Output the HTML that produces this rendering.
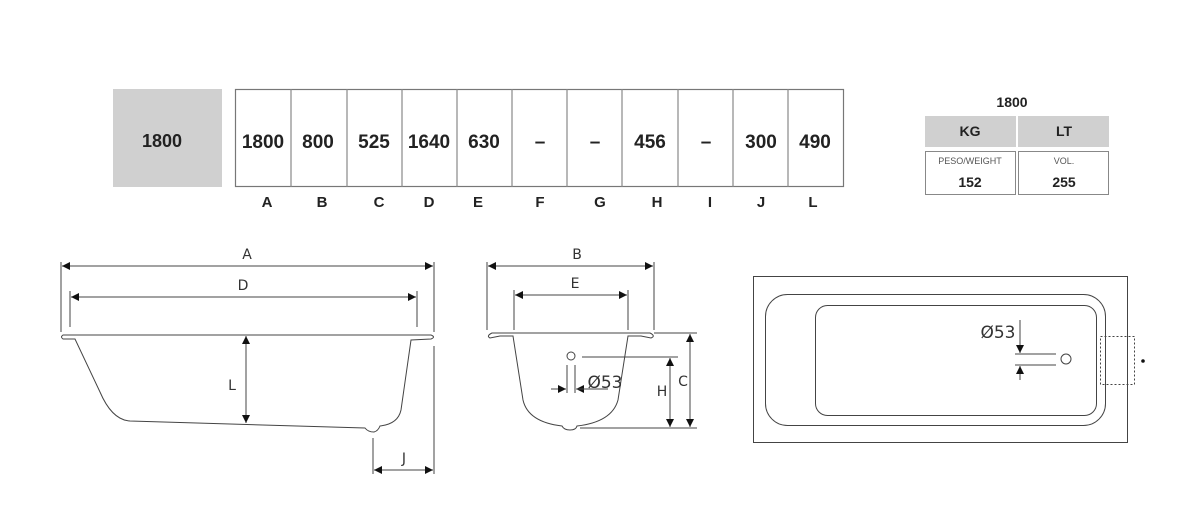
<!DOCTYPE html>
<html><head><meta charset="utf-8"><style>
html,body{margin:0;padding:0;background:#fff;width:1200px;height:515px;overflow:hidden}
svg{display:block}
.n{font-family:"Liberation Sans",sans-serif;font-weight:bold;fill:#222}
.t{font-family:"DejaVu Sans","Liberation Sans",sans-serif;fill:#333}
</style></head><body>
<svg width="1200" height="515" viewBox="0 0 1200 515" xmlns="http://www.w3.org/2000/svg">
<defs>
<marker id="ar" viewBox="0 0 10 10" refX="10" refY="5" markerWidth="12" markerHeight="8" orient="auto-start-reverse" markerUnits="userSpaceOnUse"><path d="M0,0 L10,5 L0,10 z" fill="#111"/></marker>
</defs>
<rect x="113" y="89" width="109" height="98" fill="#d0d0d0"/>
<text class="n" x="162" y="147" font-size="18" text-anchor="middle">1800</text>
<rect x="235.5" y="89.5" width="608" height="97" fill="none" stroke="#777" stroke-width="1.2"/>
<g stroke="#888" stroke-width="1.2">
<line x1="291" y1="89" x2="291" y2="187"/><line x1="347" y1="89" x2="347" y2="187"/><line x1="402" y1="89" x2="402" y2="187"/><line x1="457" y1="89" x2="457" y2="187"/><line x1="512" y1="89" x2="512" y2="187"/><line x1="567" y1="89" x2="567" y2="187"/><line x1="622" y1="89" x2="622" y2="187"/><line x1="678" y1="89" x2="678" y2="187"/><line x1="733" y1="89" x2="733" y2="187"/><line x1="788" y1="89" x2="788" y2="187"/>
</g>
<g class="n" font-size="19" text-anchor="middle">
<text x="263" y="148">1800</text><text x="318" y="148">800</text><text x="374" y="148">525</text><text x="429" y="148">1640</text><text x="484" y="148">630</text><text x="540" y="148">–</text><text x="595" y="148">–</text><text x="650" y="148">456</text><text x="706" y="148">–</text><text x="761" y="148">300</text><text x="815" y="148">490</text>
</g>
<g class="n" font-size="15" text-anchor="middle">
<text x="267" y="207">A</text><text x="322" y="207">B</text><text x="379" y="207">C</text><text x="429" y="207">D</text><text x="478" y="207">E</text><text x="540" y="207">F</text><text x="600" y="207">G</text><text x="657" y="207">H</text><text x="710" y="207">I</text><text x="761" y="207">J</text><text x="813" y="207">L</text>
</g>
<text class="n" x="1012" y="107" font-size="14" text-anchor="middle">1800</text>
<rect x="925" y="116" width="91" height="31" fill="#d0d0d0"/>
<rect x="1018" y="116" width="91" height="31" fill="#d0d0d0"/>
<text class="n" x="970" y="136" font-size="14" text-anchor="middle">KG</text>
<text class="n" x="1064" y="136" font-size="14" text-anchor="middle">LT</text>
<rect x="925.5" y="151.5" width="90" height="43" fill="none" stroke="#888"/>
<rect x="1018.5" y="151.5" width="90" height="43" fill="none" stroke="#888"/>
<text x="970" y="164" font-size="9" text-anchor="middle" font-family="Liberation Sans,sans-serif" fill="#555">PESO/WEIGHT</text>
<text x="1064" y="164" font-size="9" text-anchor="middle" font-family="Liberation Sans,sans-serif" fill="#555">VOL.</text>
<text class="n" x="970" y="187" font-size="14" text-anchor="middle">152</text>
<text class="n" x="1064" y="187" font-size="14" text-anchor="middle">255</text>

<g stroke="#444" stroke-width="1" fill="none">
<line x1="61" y1="262" x2="61" y2="332"/><line x1="434" y1="262" x2="434" y2="332"/>
<line x1="62" y1="266" x2="433" y2="266" marker-start="url(#ar)" marker-end="url(#ar)"/>
<line x1="70" y1="291" x2="70" y2="327"/><line x1="417" y1="291" x2="417" y2="327"/>
<line x1="71" y1="297" x2="416" y2="297" marker-start="url(#ar)" marker-end="url(#ar)"/>
<line x1="73" y1="335" x2="416" y2="335"/>
<path d="M74,335 L63,335 Q60,337 63,339 L75,339 L100,392 Q112,420 130,421 L365,428 Q368,432 374,432 Q378,431 380,426 Q398,424 401,410 L411,340 L431,339 Q436,337 431,335 L416,335"/>
<line x1="246" y1="336" x2="246" y2="423" marker-start="url(#ar)" marker-end="url(#ar)"/>
<line x1="373" y1="438" x2="373" y2="474"/><line x1="434" y1="346" x2="434" y2="474"/>
<line x1="374" y1="470" x2="433" y2="470" marker-start="url(#ar)" marker-end="url(#ar)"/>
<line x1="487" y1="262" x2="487" y2="330"/><line x1="654" y1="262" x2="654" y2="330"/>
<line x1="488" y1="266" x2="653" y2="266" marker-start="url(#ar)" marker-end="url(#ar)"/>
<line x1="514" y1="290" x2="514" y2="330"/><line x1="628" y1="290" x2="628" y2="330"/>
<line x1="515" y1="295" x2="627" y2="295" marker-start="url(#ar)" marker-end="url(#ar)"/>
<line x1="513" y1="333" x2="629" y2="333"/>
<path d="M513,333 L492,333 Q486,336 490,338 L500,336 L513,336 L523,400 Q528,422 562,426 Q564,430 570,430 Q576,430 577,426 Q612,422 618,400 L628,336 L641,336 L651,338 Q656,336 650,333 L629,333"/>
<line x1="654" y1="333" x2="697" y2="333"/>
<line x1="580" y1="428" x2="697" y2="428"/>
<circle cx="571" cy="356" r="4"/>
<line x1="582" y1="357" x2="678" y2="357"/>
<line x1="670" y1="358" x2="670" y2="427" marker-start="url(#ar)" marker-end="url(#ar)"/>
<line x1="690" y1="334" x2="690" y2="427" marker-start="url(#ar)" marker-end="url(#ar)"/>
<line x1="567" y1="365" x2="567" y2="393"/><line x1="575" y1="365" x2="575" y2="393"/>
<line x1="551" y1="389" x2="566" y2="389" marker-end="url(#ar)"/>
<line x1="590" y1="389" x2="576" y2="389" marker-end="url(#ar)"/>
<line x1="576" y1="389" x2="608" y2="389"/>
<rect x="753.5" y="276.5" width="374" height="166"/>
<rect x="765.5" y="294.5" width="340" height="131" rx="22"/>
<rect x="815.5" y="305.5" width="281" height="110" rx="12"/>
<circle cx="1066" cy="359" r="5"/>
<line x1="1015" y1="354" x2="1056" y2="354"/><line x1="1015" y1="365" x2="1056" y2="365"/>
<line x1="1020" y1="320" x2="1020" y2="353" marker-end="url(#ar)"/>
<line x1="1020" y1="380" x2="1020" y2="366" marker-end="url(#ar)"/>
<rect x="1100.5" y="336.5" width="34" height="48" stroke-dasharray="2,2"/>
</g>
<circle cx="1143" cy="361" r="1.8" fill="#111"/>
<g class="t" font-size="14" text-anchor="middle">
<text x="247" y="259">A</text><text x="243" y="290">D</text><text x="232" y="390">L</text><text x="404" y="463">J</text>
<text x="577" y="259">B</text><text x="575" y="288">E</text><text x="662" y="396">H</text><text x="683" y="386">C</text>
</g>
<text class="t" x="605" y="388" font-size="17" text-anchor="middle">Ø53</text>
<text class="t" x="998" y="338" font-size="17" text-anchor="middle">Ø53</text>
</svg>
</body></html>
